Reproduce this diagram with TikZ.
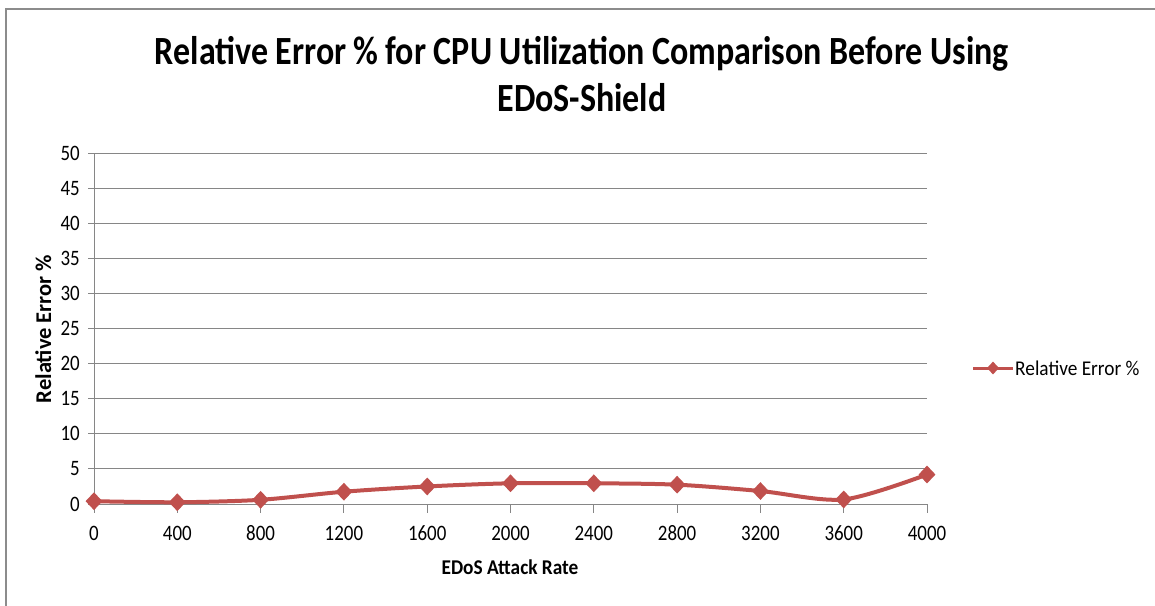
\documentclass[tikz,border=0pt]{standalone}
\usepackage{fontspec}
\setmainfont{Carlito}
\newfontfamily\ttlfont[FakeStretch=0.85]{Carlito}
\newfontfamily\lblfont[FakeStretch=0.86]{Carlito}
\newfontfamily\axfont[FakeStretch=0.92]{Carlito}
\usetikzlibrary{shapes.geometric}
\definecolor{gridgray}{HTML}{868686}
\definecolor{framegray}{HTML}{8C8C8C}
\definecolor{seriesred}{HTML}{C0504D}

\begin{document}
\begin{tikzpicture}[
    x=1pt, y=-1pt,
    ttl/.style={font=\ttlfont\bfseries\fontsize{40}{40}\selectfont, inner sep=0pt, anchor=base},
    ticklbl/.style={font=\lblfont\fontsize{22}{22}\selectfont, inner sep=0pt},
    axttl/.style={font=\axfont\bfseries\fontsize{21}{21}\selectfont, inner sep=0pt, anchor=base},
    legtxt/.style={font=\axfont\fontsize{21}{21}\selectfont, inner sep=0pt, anchor=base west},
    gridln/.style={draw=gridgray, line width=1pt},
    series/.style={draw=seriesred, line width=4pt, line join=round, line cap=round},
    mk/.style={diamond, fill=seriesred, inner sep=0pt, minimum width=17pt, minimum height=18pt}
  ]
  \useasboundingbox (0,0) rectangle (1155,605);
  \draw[framegray, line width=2pt] (6,620) -- (6,9) -- (1170,9);

  \node[ttl] (ttl1) at (582,64) {Relative Error\,\% for CPU Utilization Comparison Before Using};
  \node[ttl] (ttl2) at (582,111) {EDoS-Shield};

  \begin{scope}[shift={(94,504)}, x=0.20825pt, y=7.02pt]
    % value axis
    \foreach \g in {5,10,...,50}
      \draw[gridln] (0,\g) ++(-6pt,0) -- (4000,\g);
    \foreach \g in {0,5,...,50}
      \node[ticklbl, anchor=east] (yl\g) at ([xshift=-14pt]0,\g) {\g};
    \draw[gridln] (0,0) ++(-6pt,0) -- (0,0) -- (0,50);
    % category axis
    \draw[gridln] (0,0) -- (4000,0);
    \foreach \c in {0,400,...,4000} {
      \draw[gridln] (\c,0) -- ++(0,-9pt);
      \node[ticklbl, anchor=base] (xl\c) at ([yshift=-36pt]\c,0) {\c};
    }
    % series
    \draw[series] plot[smooth, tension=0.5] coordinates {(0,0.4) (400,0.25) (800,0.6) (1200,1.75) (1600,2.5) (2000,2.95) (2400,2.95) (2800,2.75) (3200,1.85) (3600,0.65) (4000,4.2)};
    \foreach \c/\v in {0/0.4,400/0.25,800/0.6,1200/1.75,1600/2.5,2000/2.95,2400/2.95,2800/2.75,3200/1.85,3600/0.65,4000/4.2}
      \node[mk] (pt\c) at (\c,\v) {};
  \end{scope}

  \node[axttl] (xttl) at (510,574) {EDoS Attack Rate};
  \node[axttl, font=\setmainfont{Carlito}\bfseries\fontsize{22.5}{22.5}\selectfont, rotate=90] (yttl) at (51,329) {Relative Error \%};

  % legend
  \coordinate (lga) at (973,368);
  \coordinate (lgb) at (1013,368);
  \draw[draw=seriesred, line width=3pt] (lga) -- (lgb);
  \node[mk, minimum width=12pt, minimum height=13pt] (lgm) at (993,368) {};
  \node[legtxt] (lgt) at (1015,375) {Relative Error \%};
\end{tikzpicture}
\end{document}
